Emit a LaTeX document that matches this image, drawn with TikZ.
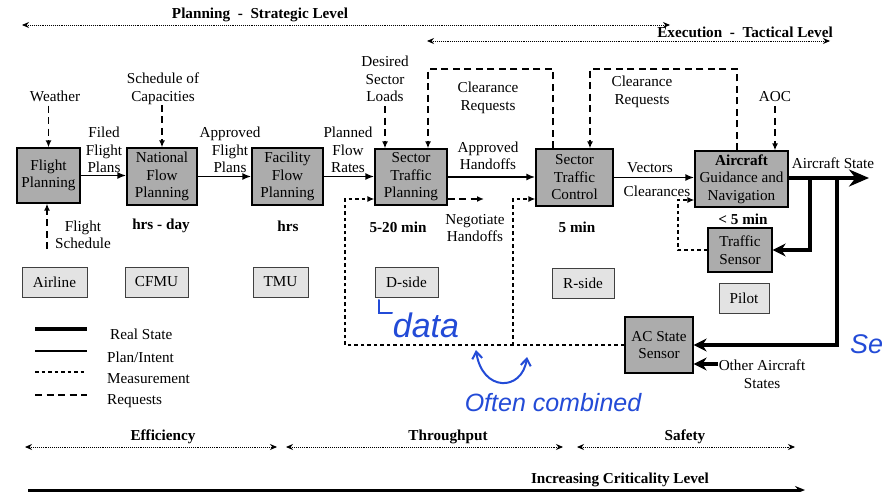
\documentclass[tikz,border=0pt]{standalone}
\usepackage{fontspec}
\setmainfont{Liberation Serif}
\newfontfamily\handfont{Liberation Sans}
\usetikzlibrary{arrows.meta,calc}
\newcommand\fsn{\fontsize{15.2}{17.5}\selectfont}
\definecolor{inkblue}{RGB}{35,75,215}
\begin{document}
\begin{tikzpicture}[x=1pt,y=-1pt,
  every node/.style={font=\fsn, inner sep=0pt, align=center},
  proc/.style={draw, line width=1.3pt, fill=gray!65},
  lab/.style={draw=black!75, line width=0.9pt, fill=gray!22},
  plan/.style={line width=1.8pt, -{Latex[length=9pt,width=7pt]}},
  real/.style={line width=4.5pt, line join=miter, -{Stealth[length=13pt,width=13pt]}},
  meas/.style={line width=1.3pt, dash pattern=on 3.5pt off 3pt, -{Latex[length=7pt,width=6pt]}},
  req/.style={line width=1.5pt, dash pattern=on 7pt off 4.5pt, -{Latex[length=7pt,width=6pt]}},
  span/.style={line width=0.9pt, densely dotted, {Stealth[length=7pt,width=6pt]}-{Stealth[length=7pt,width=6pt]}},
  lvl/.style={font=\fsn\bfseries},
  hand/.style={text=inkblue, font=\handfont\itshape\fontsize{34}{36}\selectfont}
]
\useasboundingbox (0,0) rectangle (886,492);
\clip (0,0) rectangle (886,492);
\fill[white] (0,0) rectangle (886,492);

% ---- level arrows at top ----
\coordinate (pl1) at (22,25);
\coordinate (pl2) at (670,25);
\draw[span] (pl1) -- (pl2);
\node[lvl] (pltxt) at (260,15) {Planning~~-~~Strategic Level};
\coordinate (ex1) at (427,41);
\coordinate (ex2) at (830,41);
\draw[span] (ex1) -- (ex2);
\node[lvl] (extxt) at (745,32) {Execution~~-~~Tactical Level};

% ---- process boxes ----
\node[proc, minimum width=63pt, minimum height=55pt] (FP) at (48.5,175.5) {Flight\\Planning};
\node[proc, minimum width=70pt, minimum height=57pt] (NFP) at (162,176.5) {National\\Flow\\Planning};
\node[proc, minimum width=71pt, minimum height=57pt] (FFP) at (287.5,176.5) {Facility\\Flow\\Planning};
\node[proc, minimum width=72pt, minimum height=56pt] (STP) at (411,177) {Sector\\Traffic\\Planning};
\node[proc, minimum width=77pt, minimum height=57pt] (STC) at (574.5,177.5) {Sector\\Traffic\\Control};
\node[proc, minimum width=93pt, minimum height=56pt] (AGN) at (741.5,179) {\textbf{Aircraft}\\Guidance and\\Navigation};
\node[proc, minimum width=64pt, minimum height=44pt] (TS) at (740,250) {Traffic\\Sensor};
\node[proc, minimum width=68pt, minimum height=56pt] (ACSS) at (659,345) {AC State\\Sensor};

% ---- actor boxes ----
\node[lab, minimum width=65pt, minimum height=30pt] (airline) at (54.5,282) {Airline};
\node[lab, minimum width=63pt, minimum height=30pt] (cfmu) at (156.5,282) {CFMU};
\node[lab, minimum width=55pt, minimum height=30pt] (tmu) at (280.5,282) {TMU};
\node[lab, minimum width=63pt, minimum height=30pt] (dside) at (406.5,282) {D-side};
\node[lab, minimum width=62pt, minimum height=30pt] (rside) at (583,283) {R-side};
\node[lab, minimum width=50pt, minimum height=30pt] (pilot) at (744,298) {Pilot};

% ---- inputs ----
\node (wx) at (55,96) {Weather};
\draw[req] (wx.south -| FP.north) ++(0,4) -- (FP.north);
\node (soc) at (163,89) {Schedule of\\Capacities};
\draw[req] (soc.south -| NFP.north) -- (NFP.north);
\node (dsl) at (385,79) {Desired\\Sector\\Loads};
\draw[req] ($(dsl.south)+(0,4)$) -- (dsl.south |- STP.north);
\node (aoc) at (775,97) {AOC};
\draw[req] ($(aoc.south)+(0,4)$) -- (aoc.south |- AGN.north);
\node (fsch) at (83,235) {Flight\\Schedule};
\coordinate (fs) at (47,249);
\draw[req] (fs) -- (fs |- FP.south);

% ---- plan / intent flow ----
\draw[plan] (FP.east) -- (FP.east -| NFP.west);
\node (ffp) at (104,150) {Filed\\Flight\\Plans};
\draw[plan] (NFP.east) -- (NFP.east -| FFP.west);
\node (afp) at (230,150) {Approved\\Flight\\Plans};
\draw[plan] (FFP.east) -- (FFP.east -| STP.west);
\node (pfr) at (348,150) {Planned\\Flow\\Rates};
\draw[plan] (STP.east) -- (STP.east -| STC.west);
\node (aho) at (488,156) {Approved\\Handoffs};
\draw[plan] (STC.east) -- (STC.east -| AGN.west);
\node (vec) at (650,168) {Vectors};
\node (clr) at (657,191) {Clearances};

% ---- clearance requests ----
\coordinate (c1a) at (428,69);
\coordinate (c1b) at (553,69);
\draw[req] (c1b |- STC.north) -- (c1b) -- (c1a) -- (c1a |- STP.north);
\node (cr1) at (488,98) {Clearance\\Requests};
\coordinate (c2a) at (590,69);
\coordinate (c2b) at (737,69);
\draw[req] (c2b |- AGN.north) -- (c2b) -- (c2a) -- (c2a |- STC.north);
\node (cr2) at (642,92) {Clearance\\Requests};

% ---- negotiate handoffs ----
\coordinate (nh) at (484,199);
\draw[req] (nh -| STP.east) -- (nh);
\node (nht) at (475,228) {Negotiate\\Handoffs};

% ---- measurements ----
\coordinate (mL) at (345,345);
\coordinate (mS) at (345,199);
\coordinate (mM) at (513,345);
\coordinate (mT) at (513,199);
\draw[meas] (ACSS.west) -- (mL) -- (mS) -- (mS -| STP.west);
\draw[meas] (mM) -- (mT) -- (mT -| STC.west);
\coordinate (tA) at (678,250);
\coordinate (tB) at (678,200);
\draw[meas] (TS.west) -- (tA) -- (tB) -- (tB -| AGN.west);

% ---- real state ----
\coordinate (ast) at (869,178);
\draw[real, -{Stealth[length=20pt,width=17pt]}] (AGN.east |- ast) -- (ast);
\node (astt) at (833,163) {Aircraft State};
\coordinate (rb1) at (810,178);
\draw[real] (rb1) |- (TS.east);
\coordinate (rb2) at (837,178);
\draw[real] (rb2) |- (ACSS.east);
\coordinate (oac) at (718,364);
\draw[real] (oac) -- (oac -| ACSS.east);
\node (oat) at (762,374) {Other Aircraft\\States};

% ---- time scales ----
\node[lvl] (t1) at (161,226) {hrs - day};
\node[lvl] (t2) at (288,226) {hrs};
\node[lvl] (t3) at (398,227) {5-20 min};
\node[lvl] (t4) at (577,227) {5 min};
\node[lvl] (t5) at (743,219) {< 5 min};

% ---- legend ----
\coordinate (lg1) at (35,329); \coordinate (lg1e) at (87,329);
\draw[line width=4.5pt] (lg1) -- (lg1e);
\node[anchor=west] (lt1) at (110,334) {Real State};
\coordinate (lg2) at (35,351); \coordinate (lg2e) at (87,351);
\draw[line width=2pt] (lg2) -- (lg2e);
\node[anchor=west] (lt2) at (107,357) {Plan/Intent};
\coordinate (lg3) at (35,372); \coordinate (lg3e) at (87,372);
\draw[line width=1.3pt, dash pattern=on 3.5pt off 3pt] (lg3) -- (lg3e);
\node[anchor=west] (lt3) at (107,379) {Measurement};
\coordinate (lg4) at (35,395); \coordinate (lg4e) at (87,395);
\draw[line width=1.5pt, dash pattern=on 7pt off 4.5pt] (lg4) -- (lg4e);
\node[anchor=west] (lt4) at (107,401) {Requests};

% ---- bottom scales ----
\coordinate (e1) at (25,447); \coordinate (e2) at (277,447);
\draw[span] (e1) -- (e2);
\node[lvl] (et) at (163,437) {Efficiency};
\coordinate (h1) at (286,447); \coordinate (h2) at (563,447);
\draw[span] (h1) -- (h2);
\node[lvl] (ht) at (448,437) {Throughput};
\coordinate (s1) at (577,447); \coordinate (s2) at (795,447);
\draw[span] (s1) -- (s2);
\node[lvl] (st) at (685,437) {Safety};
\coordinate (k1) at (28,490); \coordinate (k2) at (805,490);
\draw[line width=3pt, -{Stealth[length=10pt,width=8pt]}] (k1) -- (k2);
\node[lvl] (kt) at (620,480) {Increasing Criticality Level};

% ---- handwritten annotations ----
\draw[inkblue, line width=2pt, line cap=round] (379,300) -- (379,313) -- (392,313);
\node[hand] (data) at (426,325) {data};
\draw[inkblue, line width=2pt, {Straight Barb[length=7pt,width=10pt]}-{Straight Barb[length=7pt,width=10pt]}]
  (476,350) .. controls (482,392) and (522,392) .. (527,357);
\node[hand, font=\handfont\itshape\fontsize{25}{28}\selectfont] (oc) at (553,403) {Often combined};
\node[hand, anchor=west, font=\handfont\itshape\fontsize{27}{30}\selectfont] (sen) at (850,344) {Se};
\end{tikzpicture}
\end{document}
